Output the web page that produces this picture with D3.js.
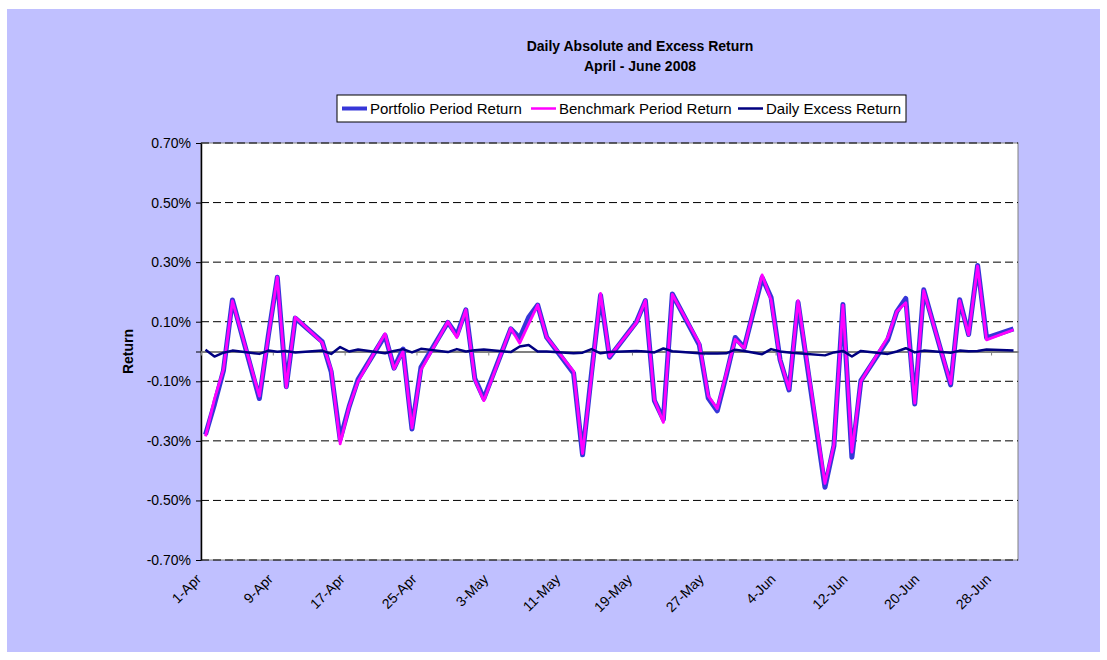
<!DOCTYPE html>
<html>
<head>
<meta charset="utf-8">
<script src="https://cdn.jsdelivr.net/npm/d3@7"></script>
<style>
body { margin: 0; background: #ffffff; }
svg { display: block; font-family: Arial, "Liberation Sans", sans-serif; }
</style>
</head>
<body>
<svg id="chart" width="1107" height="660"></svg>
<script>
// trading dates (month, day) for 2008
var dates = [
	[4,1],[4,2],[4,3],[4,4],[4,7],[4,8],[4,9],[4,10],[4,11],[4,14],[4,15],[4,16],[4,17],[4,18],
	[4,21],[4,22],[4,23],[4,24],[4,25],[4,28],[4,29],[4,30],
	[5,1],[5,2],[5,5],[5,6],[5,7],[5,8],[5,9],[5,12],[5,13],[5,14],[5,15],[5,16],[5,19],[5,20],
	[5,21],[5,22],[5,23],[5,26],[5,27],[5,28],[5,29],[5,30],[5,31],
	[6,2],[6,3],[6,4],[6,5],[6,6],[6,9],[6,10],[6,11],[6,12],[6,13],[6,16],[6,17],[6,18],[6,19],
	[6,20],[6,23],[6,24],[6,25],[6,26],[6,27],[6,30]
];

// returns in percent
var portfolio = [
	-0.279,-0.177,-0.064,0.173,-0.158,0.053,0.249,-0.118,0.112,0.033,-0.068,-0.295,-0.185,-0.093,
	0.054,-0.056,0.008,-0.260,-0.053,0.098,0.055,0.140,
	-0.091,-0.158,0.076,0.045,0.115,0.156,0.048,-0.073,-0.347,-0.072,0.189,-0.019,0.099,0.171,
	-0.165,-0.228,0.193,0.022,-0.156,-0.199,-0.081,0.047,0.013,
	0.248,0.181,-0.028,-0.129,0.165,-0.456,-0.316,0.158,-0.355,-0.098,0.040,0.134,0.178,-0.176,
	0.207,-0.112,0.174,0.057,0.289,0.046,0.076
];
var benchmark = [
	-0.285,-0.160,-0.060,0.170,-0.150,0.050,0.250,-0.120,0.115,0.030,-0.060,-0.310,-0.185,-0.100,
	0.060,-0.058,0.000,-0.257,-0.062,0.100,0.047,0.140,
	-0.095,-0.165,0.078,0.028,0.093,0.156,0.048,-0.067,-0.343,-0.080,0.195,-0.017,0.097,0.171,
	-0.162,-0.238,0.192,0.028,-0.149,-0.192,-0.075,0.041,0.011,
	0.257,0.173,-0.028,-0.126,0.171,-0.443,-0.313,0.156,-0.338,-0.100,0.048,0.134,0.164,-0.173,
	0.204,-0.108,0.171,0.056,0.287,0.039,0.073
];
var excess = [
	0.006,-0.017,-0.004,0.003,-0.008,0.003,-0.001,0.002,-0.003,0.003,-0.008,0.015,0.000,0.007,
	-0.006,0.002,0.008,-0.003,0.009,-0.002,0.008,0.000,
	0.004,0.007,-0.002,0.017,0.022,0.000,0.000,-0.006,-0.004,0.008,-0.006,-0.002,0.002,0.000,
	-0.003,0.010,0.001,-0.006,-0.007,-0.007,-0.006,0.006,0.002,
	-0.009,0.008,0.000,-0.003,-0.006,-0.013,-0.003,0.002,-0.017,0.002,-0.008,0.000,0.011,-0.003,
	0.003,-0.004,0.003,0.001,0.002,0.007,0.003
];

var yTicks = [-0.7,-0.5,-0.3,-0.1,0.1,0.3,0.5,0.7];
var xTickLabels = ['1-Apr','9-Apr','17-Apr','25-Apr','3-May','11-May','19-May','27-May','4-Jun','12-Jun','20-Jun','28-Jun'];
var seriesNames = ['Portfolio Period Return','Benchmark Period Return','Daily Excess Return'];
var seriesColors = ['#3636D8','#FF00FF','#000080'];

var svg = d3.select('#chart');
var plotLeft = 201, plotRight = 1018, plotTop = 143, plotBottom = 560;

// chart area background
svg.append('rect').attr('x', 7).attr('y', 9).attr('width', 1093).attr('height', 643)
	.attr('fill', '#C0C0FF');

var parse = d => new Date(2008, d[0]-1, d[1], 12);
var x = d3.scaleTime().domain([new Date(2008,3,1), new Date(2008,6,1)]).range([plotLeft, plotRight]);
var y = d3.scaleLinear().domain([-0.7, 0.7]).range([plotBottom, plotTop]);

svg.append('rect').attr('x', plotLeft).attr('y', plotTop).attr('width', plotRight-plotLeft).attr('height', plotBottom-plotTop)
	.attr('fill', '#ffffff').attr('stroke', '#808080').attr('stroke-width', 1);

// dashed gridlines
svg.append('g').selectAll('line').data(yTicks).enter().append('line')
	.attr('x1', plotLeft).attr('x2', plotRight)
	.attr('y1', d => y(d)).attr('y2', d => y(d))
	.attr('stroke', '#000000').attr('stroke-width', 1).attr('stroke-dasharray', '8,4');

// y axis
var yAxis = svg.append('g').attr('transform', 'translate('+plotLeft+',0)')
	.call(d3.axisLeft(y).tickValues(yTicks.concat([0])).tickFormat(d => d == 0 ? '' : d.toFixed(2)+'%').tickSize(5).tickSizeOuter(0));
yAxis.select('.domain').attr('stroke', '#000000').attr('stroke-width', 1.5);
yAxis.selectAll('text').attr('font-size', 14).attr('fill', '#000').attr('font-family', 'Arial, "Liberation Sans", sans-serif').attr('dx', -2);

// x axis across zero
var tickDates = xTickLabels.map((t, i) => d3.timeDay.offset(new Date(2008,3,1), 8*i));
var xAxis = svg.append('g').attr('transform', 'translate(0,'+y(0)+')')
	.call(d3.axisBottom(x).tickValues(tickDates).tickFormat('').tickSize(4).tickSizeOuter(0));
xAxis.select('.domain').attr('stroke', '#808080').attr('stroke-width', 2);
xAxis.selectAll('.tick line').attr('stroke', '#808080');

// rotated date labels below plot
svg.append('g').selectAll('text').data(tickDates).enter().append('text')
	.attr('transform', (d, i) => 'translate('+(x(d)+1)+','+(plotBottom+20)+') rotate(-45)')
	.attr('text-anchor', 'end').attr('font-size', 14).attr('fill', '#000')
	.text((d, i) => xTickLabels[i]);

// lines
var line = d3.line().x((d, i) => x(parse(dates[i]))).y(d => y(d));
svg.append('path').datum(portfolio).attr('d', line).attr('fill', 'none')
	.attr('stroke', seriesColors[0]).attr('stroke-width', 5).attr('stroke-linejoin', 'round');
svg.append('path').datum(benchmark).attr('d', line).attr('fill', 'none')
	.attr('stroke', seriesColors[1]).attr('stroke-width', 2.8).attr('stroke-linejoin', 'round');
svg.append('path').datum(excess).attr('d', line).attr('fill', 'none')
	.attr('stroke', seriesColors[2]).attr('stroke-width', 2.5).attr('stroke-linejoin', 'round');

// y title
svg.append('text').attr('transform', 'translate(133,'+y(0)+') rotate(-90)')
	.attr('text-anchor', 'middle').attr('font-size', 14).attr('font-weight', 'bold').text('Return');

// title
svg.append('text').attr('x', 640).attr('y', 51).attr('text-anchor', 'middle')
	.attr('font-size', 14).attr('font-weight', 'bold').text('Daily Absolute and Excess Return');
svg.append('text').attr('x', 640).attr('y', 71).attr('text-anchor', 'middle')
	.attr('font-size', 14).attr('font-weight', 'bold').text('April - June 2008');

// legend
var lg = svg.append('g');
lg.append('rect').attr('x', 337).attr('y', 95).attr('width', 569).attr('height', 27)
	.attr('fill', '#ffffff').attr('stroke', '#000000').attr('stroke-width', 1);
var legendX = [342, 531, 738];
seriesNames.forEach(function(n, i) {
	lg.append('line').attr('x1', legendX[i]).attr('x2', legendX[i]+25).attr('y1', 108.5).attr('y2', 108.5)
		.attr('stroke', seriesColors[i]).attr('stroke-width', i == 0 ? 4 : 2.5);
	lg.append('text').attr('x', legendX[i]+28).attr('y', 114).attr('font-size', 15).text(n);
});
</script>
</body>
</html>
